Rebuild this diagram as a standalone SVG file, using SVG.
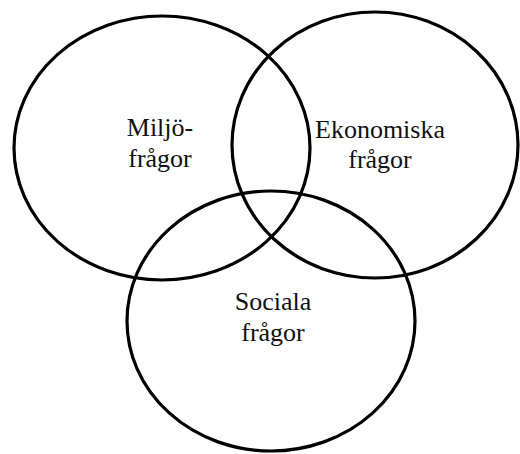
<svg xmlns="http://www.w3.org/2000/svg" width="520" height="454" viewBox="0 0 520 454">
<style>
.c{fill:none;stroke:#000;stroke-width:3.2}
.t{font-family:"Liberation Serif","Times New Roman",serif;font-size:26px;fill:#111;text-anchor:middle}
</style>
<rect width="520" height="454" fill="#fff"/>
<g id="miljo">
<ellipse class="c" cx="162" cy="148" rx="148" ry="132"/>
<text class="t" x="160" y="136">Miljö-</text>
<text class="t" x="160" y="167">frågor</text>
</g>
<g id="ekonomi">
<ellipse class="c" cx="375" cy="145" rx="143" ry="133"/>
<text class="t" x="380" y="138">Ekonomiska</text>
<text class="t" x="380" y="168">frågor</text>
</g>
<g id="sociala">
<ellipse class="c" cx="271" cy="321" rx="144" ry="130"/>
<text class="t" x="273" y="310">Sociala</text>
<text class="t" x="273" y="341">frågor</text>
</g>
<g id="connectors"/>
</svg>
